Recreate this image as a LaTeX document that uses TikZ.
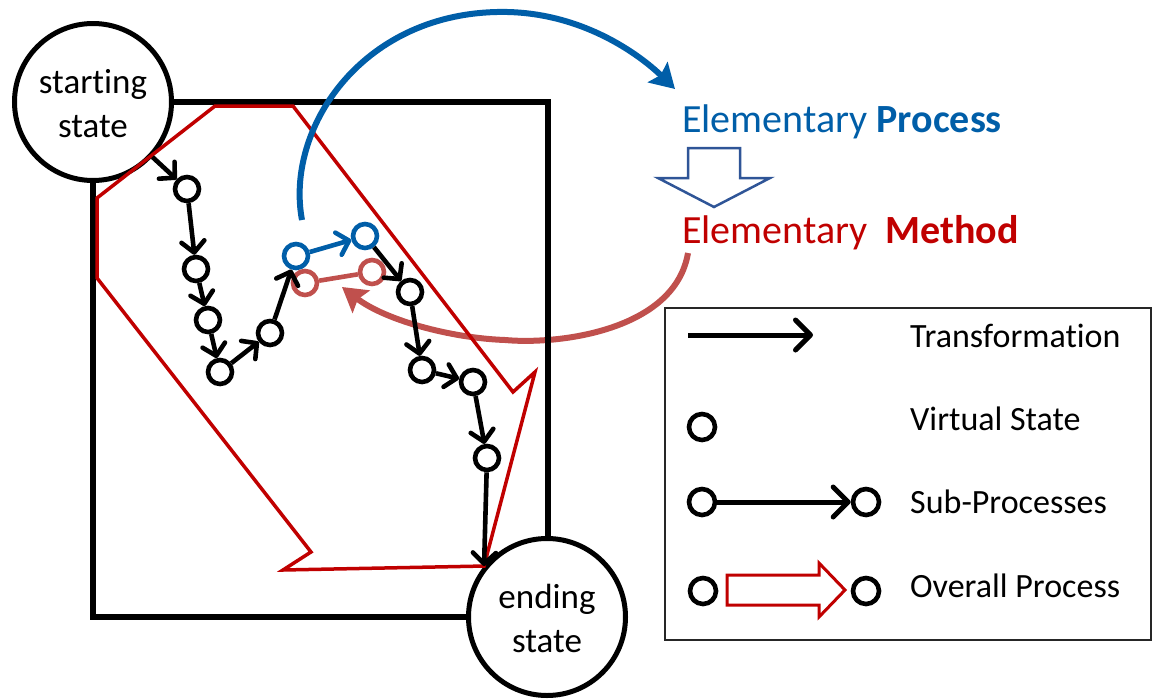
\documentclass[tikz,border=0pt]{standalone}
\usepackage{fontspec}
\setmainfont{Carlito}[Ligatures={NoCommon}]
\usetikzlibrary{arrows.meta}
\definecolor{epblue}{RGB}{0,94,168}
\definecolor{emred}{RGB}{192,0,0}
\definecolor{arcred}{RGB}{192,80,77}
\definecolor{darrow}{RGB}{47,85,151}
\begin{document}
\begin{tikzpicture}[x=1pt,y=-1pt,
  bigstate/.style={circle, draw=black, line width=5pt, fill=white, minimum size=157pt, inner sep=0pt, align=center, text height=82pt, text depth=12pt, font=\fontsize{35}{44}\selectfont},
  vstate/.style={circle, draw=black, line width=4.6pt, minimum size=24pt, inner sep=0pt},
  lstate/.style={vstate, minimum size=26pt},
  trans/.style={line width=4.6pt, -{Straight Barb[length=11pt,width=23pt,round]}},
  legtrans/.style={line width=5pt, -{Straight Barb[length=15pt,width=30pt,round]}},
  lbl/.style={font=\fontsize{34}{40}\selectfont, inner sep=0pt, anchor=base west},
  eltext/.style={font=\fontsize{40}{48}\selectfont, inner sep=0pt, anchor=base west},
  bigarc/.style={line width=6pt, -{Stealth[length=24pt,width=28pt,inset=4pt]}}]
\useasboundingbox (0,0) rectangle (1152,699);

% red feedback arc (drawn first, under everything)
\coordinate (rstart) at (688,253);
\coordinate (rend) at (342,287);
\draw[bigarc, arcred] (rstart) .. controls (675,330) and (560,345) .. (505,340)
   .. controls (450,338) and (385,320) .. (rend);

% frame
\draw[line width=6pt] (93,102) rectangle (548,617);

% start and end states
\node[bigstate] (start) at (93,102) {starting\\state};
\node[bigstate] (end) at (547,617) {ending\\state};

% overall process outline
\draw[emred, line width=3.5pt, line join=miter] (215,106) -- (293,106) -- (513,392) -- (535,372)
  -- (end.141) -- (283,570) -- (311,552) -- (97,278) -- (97,198) -- cycle;

% virtual states
\node[vstate] (n1) at (187,189) {};
\node[vstate] (n2) at (196,269) {};
\node[vstate] (n3) at (208,320) {};
\node[vstate] (n4) at (220,372) {};
\node[vstate] (n5) at (270,333) {};
\node[vstate, draw=epblue] (b1) at (296,256) {};
\node[vstate, draw=epblue] (b2) at (365,236) {};
\node[vstate, draw=arcred] (r1) at (305,283) {};
\node[vstate, draw=arcred] (r2) at (372,272) {};
\node[vstate] (n6) at (410,292) {};
\node[vstate] (n7) at (422,370) {};
\node[vstate] (n8) at (473,382) {};
\node[vstate] (n9) at (487,458) {};
\coordinate (endin) at (end.141);

% transformations
\draw[trans] (start) -- (n1);
\draw[trans] (n1) -- (n2);
\draw[trans] (n2) -- (n3);
\draw[trans] (n3) -- (n4);
\draw[trans] (n4) -- (n5);
\draw[trans] (n5) -- (b1);
\draw[trans, epblue] (b1) -- (b2);
\draw[arcred, line width=4.6pt] (r1) -- (r2);
\draw[trans] (b2) -- (n6);
\draw[trans] (n6) -- (n7);
\draw[trans] (n7) -- (n8);
\draw[trans] (n8) -- (n9);
\draw[trans] (n9) -- (endin);

% blue arc
\coordinate (bstart) at (302,220);
\coordinate (bend) at (675,89);
\draw[bigarc, epblue] (bstart) .. controls (285,130) and (360,15) .. (497,12)
   .. controls (580,10) and (640,55) .. (bend);

% elementary texts
\node[eltext, text=epblue] (ep) at (682,132) {Elementary \textbf{Process}};
\node[eltext, text=emred] (em) at (682,243) {Elementary\ \ \textbf{Method}};
\draw[darrow, line width=2.5pt, line join=miter] (688,148) -- (740,148) -- (740,178) -- (770,178)
  -- (714,207) -- (658,178) -- (688,178) -- cycle;

% legend
\node[draw=black!85, line width=1.5pt, minimum width=486pt, minimum height=332pt, inner sep=0pt, anchor=north west] (legend) at (664,307) {};
\coordinate (la1) at (688,335);
\coordinate (la2) at (813,335);
\draw[legtrans] (la1) -- (la2);
\node[lbl] (ltrans) at (910,347) {Transformation};
\node[lstate] (lv) at (702,427) {};
\node[lbl] (lvirt) at (910,430) {Virtual State};
\node[lstate] (ls1) at (702,502) {};
\node[lstate] (ls2) at (866,502) {};
\draw[legtrans] (ls1) -- (ls2);
\node[lbl] (lsub) at (910,513) {Sub-Processes};
\node[lstate] (lo1) at (703,591) {};
\node[lstate] (lo2) at (866,591) {};
\draw[emred, line width=3pt, line join=miter] (727,575) -- (819,575) -- (819,563) -- (845,590)
  -- (819,617) -- (819,605) -- (727,605) -- cycle;
\node[lbl] (lover) at (910,597) {Overall Process};
\end{tikzpicture}
\end{document}
